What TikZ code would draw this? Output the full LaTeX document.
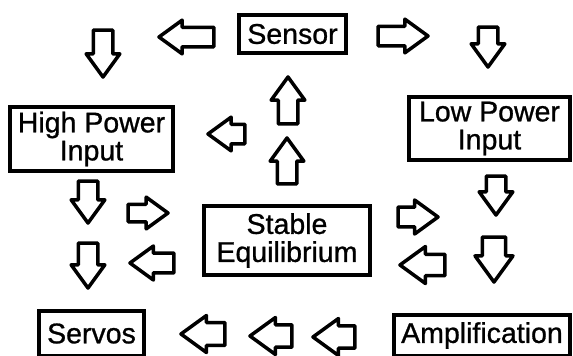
\documentclass[tikz,border=0pt]{standalone}
\usepackage{fontspec}
\setmainfont{Liberation Sans}
\newfontfamily\boxfont[FakeBold=0.9]{Liberation Sans}
\usetikzlibrary{shapes.arrows}
\tikzset{
  box/.style={draw, line width=4pt, align=center, inner sep=2pt,
    font=\boxfont\fontsize{28.5}{28}\selectfont},
  blockarrow/.style={single arrow, draw, line width=3.5pt, line join=round,
    minimum width=33pt, inner sep=8pt, single arrow tip angle=72, anchor=tip},
}

\begin{document}
\begin{tikzpicture}[x=1pt, y=-1pt]
  \useasboundingbox (0,0) rectangle (573,356);

  \node[box, minimum width=107pt, minimum height=38pt] (sensor) at (292.5,34) {Sensor};
  \node[box, minimum width=163pt, minimum height=64pt] (high) at (91.5,139) {High Power\\Input};
  \node[box, minimum width=161pt, minimum height=63pt] (low) at (489.5,128.5) {Low Power\\Input};
  \node[box, minimum width=166pt, minimum height=69pt] (stable) at (287,240.5) {Stable\\Equilibrium};
  \node[box, minimum width=105pt, minimum height=45pt] (servos) at (91.5,333.5) {Servos};
  \node[box, minimum width=176pt, minimum height=41pt] (ampl) at (482,335.5) {Amplification};

  % top row
  \node[blockarrow, rotate=180, minimum height=55pt] (sl) at (156,37) {};
  \node[blockarrow, minimum height=50pt] (sr) at (431,36) {};
  \node[blockarrow, rotate=-90, minimum height=47pt] (hd1) at (103,80) {};
  \node[blockarrow, rotate=-90, minimum height=40pt] (ld1) at (488,70) {};

  % middle
  \node[blockarrow, rotate=90, minimum height=47pt] (su1) at (288,74) {};
  \node[blockarrow, rotate=90, minimum height=46pt] (su2) at (287,135) {};
  \node[blockarrow, rotate=180, minimum height=37pt] (hl) at (205,134) {};
  \node[blockarrow, rotate=-90, minimum height=42pt] (hd2) at (88,226) {};
  \node[blockarrow, minimum height=40pt, minimum width=28pt, inner sep=7pt] (er1) at (171,213) {};
  \node[blockarrow, rotate=-90, minimum height=45pt] (hd3) at (88,291) {};
  \node[blockarrow, rotate=180, minimum height=44pt, minimum width=34pt] (el1) at (127,263) {};
  \node[blockarrow, minimum height=40pt, minimum width=34pt] (er2) at (441,217) {};
  \node[blockarrow, rotate=-90, minimum height=39pt] (ld2) at (496,218) {};
  \node[blockarrow, rotate=180, minimum height=45pt, minimum width=37pt] (el2) at (397,265) {};
  \node[blockarrow, rotate=-90, minimum height=45pt, minimum width=38pt, inner sep=9.5pt] (ld3) at (494,285) {};

  % bottom row
  \node[blockarrow, rotate=180, minimum height=44pt, minimum width=37pt, inner sep=9.5pt] (al1) at (178,334) {};
  \node[blockarrow, rotate=180, minimum height=42pt, minimum width=37pt, inner sep=9pt] (al2) at (247,336) {};
  \node[blockarrow, rotate=180, minimum height=42pt, minimum width=37pt, inner sep=9pt] (al3) at (310,337) {};
\end{tikzpicture}
\end{document}
